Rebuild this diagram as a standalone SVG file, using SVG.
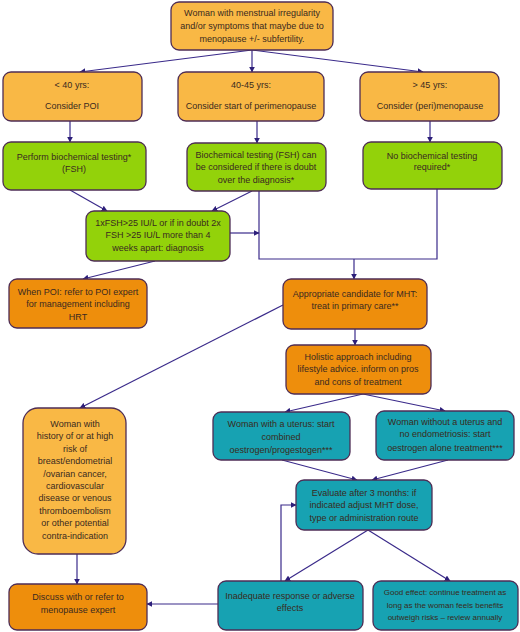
<svg xmlns="http://www.w3.org/2000/svg" width="520" height="632" viewBox="0 0 520 632">
<defs>
<marker id="ah" viewBox="0 0 10 10" refX="9" refY="5" markerWidth="6" markerHeight="6" orient="auto" markerUnits="userSpaceOnUse">
<path d="M0,0 L10,5 L0,10 z" fill="#2d1f7a"/>
</marker>
<style>
.box{stroke:#4e2d55;stroke-width:1.3}
.y{fill:#f9b845}
.o{fill:#ee8e0c}
.g{fill:#93d20a}
.t{fill:#17a2b2}
text{font-family:"Liberation Sans",Arial,sans-serif;font-size:9px;fill:#3a2a20;text-anchor:middle}
.sm{font-size:8px}
.c{fill:none;stroke:#3a2a8a;stroke-width:1.2}
.ca{fill:none;stroke:#3a2a8a;stroke-width:1.2;marker-end:url(#ah)}
</style>
</defs>
<rect width="520" height="632" fill="#ffffff"/>

<g id="connectors">
<path class="ca" d="M252,50 L80,72"/>
<path class="ca" d="M252,50 L252,72"/>
<path class="ca" d="M252,50 L423,72"/>
<path class="ca" d="M70,121 L70,142"/>
<path class="ca" d="M257,121 L257,143"/>
<path class="ca" d="M430,121 L430,142"/>
<path class="ca" d="M70,190 L107,211"/>
<path class="ca" d="M252,191 L212,211"/>
<path class="c" d="M259,191 L259,259 L437,259 L437,189"/>
<path class="ca" d="M230,233 L259,233"/>
<path class="ca" d="M354,259 L354,279"/>
<path class="ca" d="M155,261 L83,279"/>
<path class="ca" d="M355,329 L355,345"/>
<path class="ca" d="M283,305 L80,408"/>
<path class="ca" d="M363,394 L285,412"/>
<path class="ca" d="M363,394 L445,411"/>
<path class="ca" d="M282,460 L357,480"/>
<path class="ca" d="M448,460 L372,480"/>
<path class="ca" d="M368,530 L285,581"/>
<path class="ca" d="M368,530 L450,581"/>
<path class="ca" d="M281,581 L281,505 L296,505"/>
<path class="ca" d="M77,554 L77,584"/>
<path class="ca" d="M219,604 L147,604"/>
</g>

<g id="n-start">
<rect class="box y" x="171" y="2" width="162" height="48" rx="8"/>
<text x="252" y="16">Woman with menstrual irregularity</text>
<text x="252" y="29">and/or symptoms that maybe due to</text>
<text x="252" y="42">menopause +/- subfertility.</text>
</g>

<g id="n-lt40">
<rect class="box y" x="3" y="72" width="139" height="49" rx="8"/>
<text x="72" y="88">&lt; 40 yrs:</text>
<text x="72" y="109">Consider POI</text>
</g>

<g id="n-4045">
<rect class="box y" x="178" y="72" width="146" height="49" rx="8"/>
<text x="251" y="88">40-45 yrs:</text>
<text x="251" y="109">Consider start of perimenopause</text>
</g>

<g id="n-gt45">
<rect class="box y" x="360" y="72" width="139" height="49" rx="8"/>
<text x="430" y="88">&gt; 45 yrs:</text>
<text x="430" y="109">Consider (peri)menopause</text>
</g>

<g id="n-perform">
<rect class="box g" x="3" y="142" width="143" height="48" rx="8"/>
<text x="74" y="160">Perform biochemical testing*</text>
<text x="74" y="172">(FSH)</text>
</g>

<g id="n-consider">
<rect class="box g" x="187" y="143" width="139" height="48" rx="8"/>
<text x="256" y="158">Biochemical testing (FSH) can</text>
<text x="256" y="170">be considered if there is doubt</text>
<text x="256" y="183">over the diagnosis*</text>
</g>

<g id="n-notest">
<rect class="box g" x="363" y="142" width="139" height="47" rx="8"/>
<text x="432" y="159">No biochemical testing</text>
<text x="432" y="170">required*</text>
</g>

<g id="n-diagnosis">
<rect class="box g" x="86" y="211" width="144" height="50" rx="8"/>
<text x="158" y="226">1xFSH&gt;25 IU/L or if in doubt 2x</text>
<text x="158" y="238">FSH &gt;25 IU/L more than 4</text>
<text x="158" y="251">weeks apart: diagnosis</text>
</g>

<g id="n-poi">
<rect class="box o" x="9" y="279" width="138" height="49" rx="8"/>
<text x="78" y="295">When POI: refer to POI expert</text>
<text x="78" y="307">for management including</text>
<text x="78" y="320">HRT</text>
</g>

<g id="n-candidate">
<rect class="box o" x="283" y="279" width="144" height="50" rx="8"/>
<text x="355" y="297">Appropriate candidate for MHT:</text>
<text x="355" y="309">treat in primary care**</text>
</g>

<g id="n-holistic">
<rect class="box o" x="286" y="345" width="145" height="49" rx="8"/>
<text x="358" y="360">Holistic approach including</text>
<text x="358" y="372">lifestyle advice. inform on pros</text>
<text x="358" y="385">and cons of treatment</text>
</g>

<g id="n-contra">
<rect class="box y" x="23" y="408" width="103" height="146" rx="15"/>
<text x="75" y="427">Woman with</text>
<text x="75" y="439.4">history of or at high</text>
<text x="75" y="451.8">risk of</text>
<text x="75" y="464.2">breast/endometrial</text>
<text x="75" y="476.6">/ovarian cancer,</text>
<text x="75" y="489">cardiovascular</text>
<text x="75" y="501.4">disease or venous</text>
<text x="75" y="513.8">thromboembolism</text>
<text x="75" y="526.2">or other potential</text>
<text x="75" y="538.6">contra-indication</text>
</g>

<g id="n-uterus">
<rect class="box t" x="213" y="412" width="137" height="48" rx="8"/>
<text x="281" y="427">Woman with a uterus: start</text>
<text x="281" y="440">combined</text>
<text x="281" y="453">oestrogen/progestogen***</text>
</g>

<g id="n-nouterus">
<rect class="box t" x="376" y="411" width="138" height="49" rx="8"/>
<text x="445" y="425">Woman without a uterus and</text>
<text x="445" y="437">no endometriosis: start</text>
<text x="445" y="451">oestrogen alone treatment***</text>
</g>

<g id="n-evaluate">
<rect class="box t" x="296" y="480" width="136" height="50" rx="8"/>
<text x="364" y="496">Evaluate after 3 months: if</text>
<text x="364" y="508">indicated adjust MHT dose,</text>
<text x="364" y="521">type or administration route</text>
</g>

<g id="n-discuss">
<rect class="box o" x="9" y="584" width="138" height="46" rx="8"/>
<text x="78" y="600">Discuss with or refer to</text>
<text x="78" y="613">menopause expert</text>
</g>

<g id="n-inadequate">
<rect class="box t" x="218" y="581" width="145" height="49" rx="8"/>
<text x="290" y="599">Inadequate response or adverse</text>
<text x="290" y="611">effects</text>
</g>

<g id="n-good">
<rect class="box t" x="373" y="581" width="145" height="49" rx="8"/>
<text class="sm" x="445" y="595">Good effect: continue treatment as</text>
<text class="sm" x="445" y="608">long as the woman feels benefits</text>
<text class="sm" x="445" y="620">outweigh risks – review annually</text>
</g>
</svg>
